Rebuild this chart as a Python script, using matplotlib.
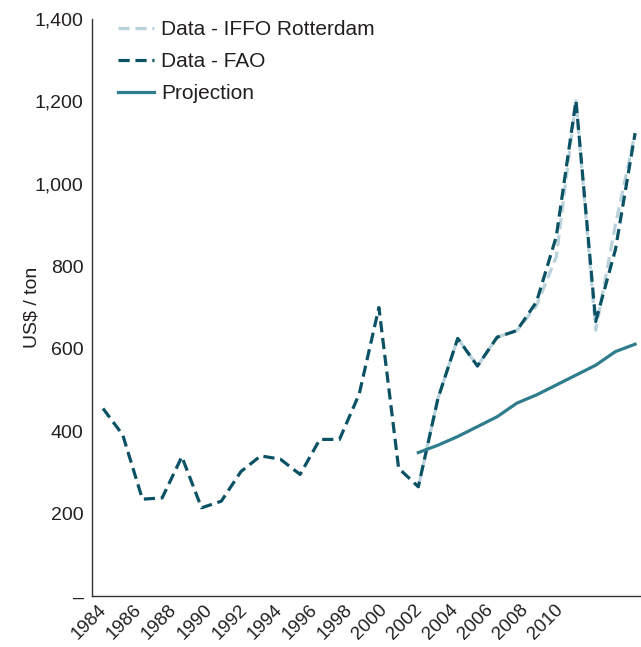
import matplotlib

matplotlib.use("Agg")
import matplotlib.pyplot as plt
import numpy as np
from matplotlib.ticker import FuncFormatter

plt.rcParams["font.family"] = ["Liberation Sans", "DejaVu Sans"]

YEARS_FAO = list(range(1984, 2012))
FAO = [455, 391, 235, 238, 338, 214, 230, 302, 340, 332, 295, 380, 380, 490,
       700, 310, 265, 480, 625, 558, 628, 644, 714, 872, 1202, 666, 840, 1123]

YEARS_IFFO = list(range(2000, 2012))
IFFO = [265, 480, 625, 558, 628, 644, 705, 823, 1202, 645, 900, 1123]

YEARS_PROJ = list(range(2000, 2012))
PROJECTION = [348, 366, 387, 411, 435, 468, 488, 512, 536, 560, 593, 611]

TICK_LABELS = [str(y) for y in range(1984, 2011, 2)]

TEXT = "#231f20"

fig = plt.figure(figsize=(6.41, 6.47), dpi=100)
ax = fig.add_axes([0.1435, 0.0788, 0.8565, 0.8918])

ax.plot(YEARS_IFFO, IFFO, color="#b9d2dc", linewidth=2.3, dashes=(3.5, 1.8),
        label="Data - IFFO Rotterdam")
ax.plot(YEARS_FAO, FAO, color="#0b5264", linewidth=2.3, dashes=(3.5, 1.8),
        label="Data - FAO")
ax.plot(YEARS_PROJ, PROJECTION, color="#2f7d8c", linewidth=2.3,
        label="Projection")

ax.set_xlim(1983.44, 2011.3)
ax.set_ylim(0, 1400)
ax.set_yticks(np.arange(0, 1401, 200))
ax.yaxis.set_major_formatter(
    FuncFormatter(lambda v, _: "–" if v == 0 else f"{int(v):,}"))

# labels in the source are spaced a little tighter than the data years
ax.set_xticks(np.linspace(1983.75, 2006.9, len(TICK_LABELS)))
ax.set_xticklabels(TICK_LABELS, rotation=45, ha="right",
                   rotation_mode="anchor")
ax.tick_params(axis="both", length=0, colors=TEXT)
ax.tick_params(axis="y", pad=6, labelsize=14)
ax.tick_params(axis="x", pad=4, labelsize=13.5)

for side in ("top", "right"):
    ax.spines[side].set_visible(False)
for side in ("left", "bottom"):
    ax.spines[side].set_color("#333333")
    ax.spines[side].set_linewidth(1.0)

ax.set_ylabel("US$ / ton", fontsize=14, color=TEXT)
ax.yaxis.set_label_coords(-0.094, 0.5)

ax.legend(loc="upper left", bbox_to_anchor=(0.033, 1.012), frameon=False,
          fontsize=15, handlelength=1.7, handletextpad=0.35,
          labelspacing=0.62, borderaxespad=0.0, labelcolor=TEXT)

fig.savefig("out.png", dpi=100)
